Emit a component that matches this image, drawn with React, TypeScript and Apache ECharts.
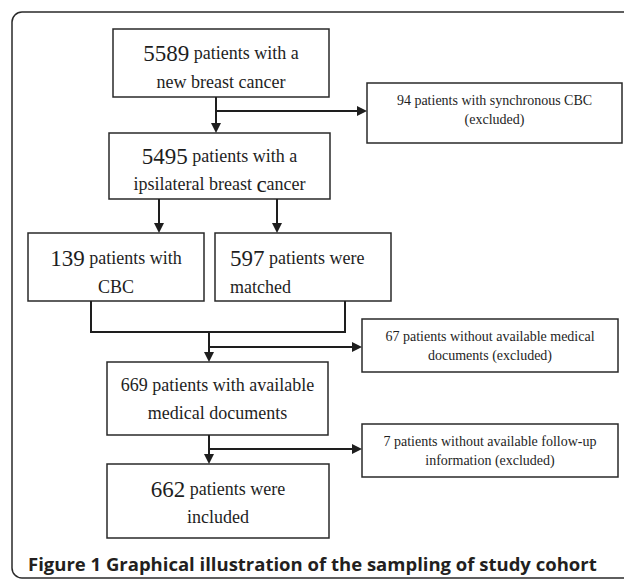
import React, { useEffect, useRef } from "react";
import * as echarts from "echarts";

// ---- data (counts and texts of the flowchart) ----
const counts = [5589, 94, 5495, 139, 597, 67, 669, 7, 662];
const line1Texts = [
  " patients with a",
  " patients with synchronous CBC",
  " patients with a",
  " patients with",
  " patients were",
  " patients without available medical",
  " patients with available",
  " patients without available follow-up",
  " patients were",
];
const line2Texts = [
  "new breast cancer",
  "(excluded)",
  "ipsilateral breast |ancer",
  "CBC",
  "matched",
  "documents (excluded)",
  "medical documents",
  "information (excluded)",
  "included",
];
const captionText = "Figure 1 Graphical illustration of the sampling of study cohort";

// ---- layout (positions, sizes, styles) ----
type Box = { x: number; y: number; w: number; h: number; cx: number; l1: number; l2: number; kind: "big" | "small" | "plain"; align?: "left" };
const boxes: Box[] = [
  { x: 113, y: 29, w: 216, h: 68, cx: 221, l1: 53, l2: 82, kind: "big" },
  { x: 367, y: 83, w: 255, h: 60, cx: 494.5, l1: 100, l2: 119, kind: "small" },
  { x: 109, y: 133, w: 221, h: 66, cx: 219.5, l1: 156, l2: 184, kind: "big" },
  { x: 28, y: 233, w: 176, h: 68, cx: 116, l1: 258, l2: 287, kind: "big" },
  { x: 215, y: 233, w: 176, h: 68, cx: 230, l1: 258, l2: 287, kind: "big", align: "left" },
  { x: 362, y: 319, w: 256, h: 53, cx: 490, l1: 336, l2: 355, kind: "small" },
  { x: 107, y: 362, w: 221, h: 73, cx: 217.5, l1: 385, l2: 413, kind: "plain" },
  { x: 362, y: 424, w: 256, h: 53, cx: 490, l1: 441, l2: 460, kind: "small" },
  { x: 107, y: 464, w: 222, h: 74, cx: 218, l1: 489, l2: 517, kind: "big" },
];

const SERIF = "Liberation Serif";
const INK = "#1e1e1e";

function arrowDown(x: number, y1: number, y2: number) {
  return [
    { type: "line", shape: { x1: x, y1, x2: x, y2: y2 - 8 }, style: { stroke: INK, lineWidth: 2 } },
    { type: "polygon", shape: { points: [[x - 5, y2 - 10], [x + 5, y2 - 10], [x, y2]] }, style: { fill: INK } },
  ];
}
function arrowRight(y: number, x1: number, x2: number) {
  return [
    { type: "line", shape: { x1, y1: y, x2: x2 - 8, y2: y }, style: { stroke: INK, lineWidth: 2 } },
    { type: "polygon", shape: { points: [[x2 - 10, y - 5], [x2 - 10, y + 5], [x2, y]] }, style: { fill: INK } },
  ];
}
function poly(points: number[][]) {
  return { type: "polyline", shape: { points }, style: { stroke: INK, lineWidth: 2, fill: "none" } };
}

export default function App() {
  const ref = useRef<HTMLDivElement>(null);
  useEffect(() => {
    if (!ref.current) return;
    const chart = echarts.init(ref.current, undefined, { renderer: "svg" });
    const els: any[] = [];
    // outer frame
    els.push({
      type: "rect",
      shape: { x: 12, y: 12, width: 640, height: 566, r: 10 },
      style: { stroke: "#2a2a2a", lineWidth: 1.5, fill: "#fff" },
    });
    boxes.forEach((b, i) => {
      els.push({
        type: "rect",
        shape: { x: b.x, y: b.y, width: b.w, height: b.h },
        style: { stroke: "#2a2a2a", lineWidth: 1.5, fill: "#fff" },
      });
      const align = b.align === "left" ? "left" : "center";
      const rich = {
        n: { fontSize: 23, fontFamily: SERIF, fontWeight: "normal", fill: INK },
        t: { fontSize: 18, fontFamily: SERIF, fontWeight: "normal", fill: INK },
        s: { fontSize: 14, fontFamily: SERIF, fontWeight: "normal", fill: INK },
      };
      let t1: string;
      let t2: string;
      if (b.kind === "big") {
        t1 = `{n|${counts[i]}}{t|${line1Texts[i]}}`;
        const parts = line2Texts[i].split("|");
        t2 = parts.length > 1 ? `{t|${parts[0]}}{n|c}{t|${parts[1]}}` : `{t|${parts[0]}}`;
      } else if (b.kind === "plain") {
        t1 = `{t|${counts[i]}${line1Texts[i]}}`;
        t2 = `{t|${line2Texts[i]}}`;
      } else {
        t1 = `{s|${counts[i]}${line1Texts[i]}}`;
        t2 = `{s|${line2Texts[i]}}`;
      }
      const base = { fontFamily: SERIF, fontSize: b.kind === "small" ? 14 : 18, fill: INK, align, verticalAlign: "middle" };
      els.push({ type: "text", x: b.cx, y: b.l1, style: { ...base, text: t1, rich } });
      els.push({ type: "text", x: b.cx, y: b.l2, style: { ...base, text: t2, rich } });
    });
    // connectors
    els.push(...arrowDown(216, 97, 133));
    els.push(...arrowRight(111, 216, 367));
    els.push(...arrowDown(159, 199, 233));
    els.push(...arrowDown(277, 199, 233));
    els.push(poly([[91, 301], [91, 332], [345, 332], [345, 301]]));
    els.push(...arrowDown(209, 332, 362));
    els.push(...arrowRight(347, 209, 362));
    els.push(...arrowDown(209, 435, 464));
    els.push(...arrowRight(449, 209, 362));
    // caption
    els.push({
      type: "text",
      x: 28,
      y: 563,
      style: {
        text: captionText,
        fontFamily: "Open Sans",
        fontWeight: "bold",
        fontSize: 18.5,
        fill: "#231f20",
        align: "left",
        verticalAlign: "middle",
      },
    });
    chart.setOption({ animation: false, backgroundColor: "#fff", graphic: { elements: els } });
    return () => chart.dispose();
  }, []);
  return (
    <div
      ref={ref}
      style={{ position: "fixed", left: 0, top: 0, width: 624, height: 581, background: "#fff" }}
    />
  );
}
